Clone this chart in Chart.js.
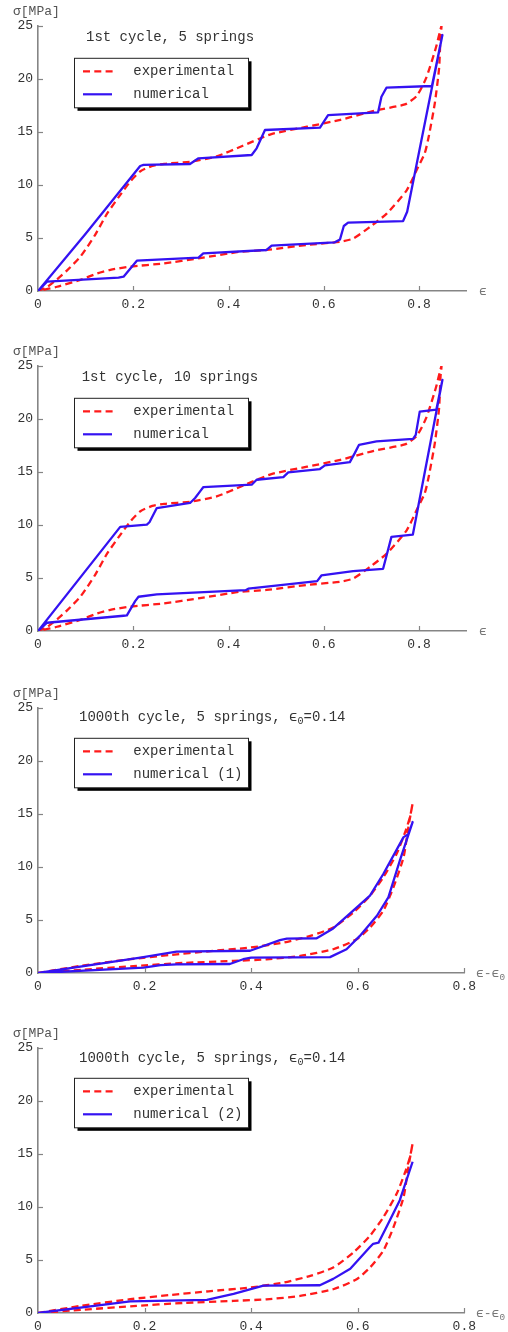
<!DOCTYPE html>
<html>
<head>
<meta charset="utf-8">
<script src="https://cdn.jsdelivr.net/npm/chart.js@4.4.0/dist/chart.umd.min.js"></script>
<style>
  body { margin: 0; background: #fff; width: 508px; height: 1332px; position: relative; overflow: hidden; }
  .panel { position: absolute; left: 0; width: 508px; height: 330px; }
</style>
</head>
<body>
<div class="panel" style="top:0px"><canvas id="c1" width="508" height="330"></canvas></div>
<div class="panel" style="top:340px"><canvas id="c2" width="508" height="330"></canvas></div>
<div class="panel" style="top:682px"><canvas id="c3" width="508" height="330"></canvas></div>
<div class="panel" style="top:1022px"><canvas id="c4" width="508" height="330"></canvas></div>
<script>
// ---- data ----
const yTicks = [0, 5, 10, 15, 20, 25];
const yTickLabels = ['0', '5', '10', '15', '20', '25'];
const xTicks = [0, 0.2, 0.4, 0.6, 0.8];
const xTickLabels = ['0', '0.2', '0.4', '0.6', '0.8'];

// experimental, 1st cycle (loading then unloading)
const expX1 = [0, 0.02, 0.04, 0.06, 0.09, 0.12, 0.145, 0.17, 0.195, 0.215, 0.24, 0.265, 0.32, 0.375, 0.43, 0.49, 0.565, 0.635, 0.705, 0.77, 0.795, 0.815, 0.835, 0.847,
               0.845, 0.842, 0.833, 0.82, 0.812, 0.798, 0.774, 0.732, 0.697, 0.662, 0.634, 0.564, 0.48, 0.424, 0.34, 0.263, 0.194, 0.152, 0.124, 0.089, 0.04, 0];
const expY1 = [0, 0.4, 1.1, 1.9, 3.3, 5.3, 7.3, 8.9, 10.4, 11.3, 11.8, 12.0, 12.2, 12.7, 13.7, 14.8, 15.5, 16.15, 17.0, 17.6, 18.4, 20.1, 22.9, 25.0,
               24.0, 21.0, 17.7, 14.5, 13.0, 11.7, 9.5, 7.3, 6.05, 4.95, 4.65, 4.34, 3.87, 3.7, 3.1, 2.6, 2.3, 2.0, 1.65, 1.05, 0.4, 0];

// numerical, 1st cycle, 5 springs
const numX1 = [0, 0.1, 0.2145, 0.2215, 0.319, 0.337, 0.4486, 0.459, 0.4765, 0.592, 0.609, 0.714, 0.721, 0.7315, 0.827, 0.849,
               0.775, 0.7665, 0.651, 0.642, 0.634, 0.623, 0.4905, 0.48, 0.347, 0.337, 0.2075, 0.1796, 0.169, 0.0189, 0];
const numY1 = [0, 5.4, 11.79, 11.89, 11.98, 12.52, 12.83, 13.46, 15.19, 15.41, 16.6, 16.86, 18.33, 19.18, 19.34, 24.15,
               7.48, 6.6, 6.45, 6.13, 4.87, 4.59, 4.28, 3.87, 3.55, 3.14, 2.86, 1.35, 1.26, 0.88, 0];

// numerical, 1st cycle, 10 springs
const numX2 = [0, 0.1726, 0.2285, 0.234, 0.2494, 0.3193, 0.3298, 0.3403, 0.3473, 0.4486, 0.459, 0.515, 0.5254, 0.5918, 0.6023, 0.6547, 0.665, 0.674, 0.7106, 0.7874, 0.793, 0.8014, 0.8363, 0.849,
               0.787, 0.742, 0.7245, 0.6616, 0.595, 0.586, 0.4415, 0.436, 0.2494, 0.211, 0.204, 0.1866, 0.1796, 0.0189, 0];
const numY2 = [0, 9.82, 10.04, 10.26, 11.6, 12.08, 12.55, 13.17, 13.58, 13.8, 14.27, 14.52, 14.96, 15.28, 15.62, 15.93, 16.78, 17.57, 17.88, 18.13, 18.5, 20.7, 20.89, 23.68,
               9.1, 8.88, 5.87, 5.65, 5.24, 4.7, 3.99, 3.85, 3.45, 3.23, 2.82, 1.47, 1.44, 0.78, 0];

// experimental, 1000th cycle (x = eps - eps0)
const expX2 = [0, 0.079, 0.173, 0.248, 0.32, 0.398, 0.46, 0.511, 0.554, 0.592, 0.623, 0.648, 0.673, 0.689, 0.698, 0.703,
               0.695, 0.686, 0.667, 0.648, 0.623, 0.598, 0.554, 0.492, 0.429, 0.367, 0.273, 0.179, 0.086, 0];
const expY2 = [0, 0.66, 1.3, 1.7, 2.05, 2.4, 2.87, 3.5, 4.29, 5.71, 7.29, 9.03, 11.24, 13.29, 14.7, 16.0,
               13.76, 10.92, 8.08, 5.87, 4.29, 3.19, 2.24, 1.61, 1.29, 1.14, 0.95, 0.65, 0.32, 0];

// numerical (1), 1000th cycle
const numX3 = [0, 0.192, 0.26, 0.398, 0.454, 0.467, 0.523, 0.554, 0.592, 0.623, 0.648, 0.686, 0.695, 0.703,
               0.679, 0.6575, 0.636, 0.604, 0.579, 0.548, 0.4, 0.385, 0.36, 0.26, 0.23, 0.198, 0];
const numY3 = [0, 1.45, 2.02, 2.1, 3.1, 3.25, 3.28, 4.2, 5.9, 7.29, 9.34, 12.82, 13.1, 14.24,
               10.6, 7.13, 5.4, 3.5, 2.24, 1.5, 1.45, 1.3, 0.85, 0.82, 0.75, 0.5, 0];

// numerical (2), 1000th cycle
const numX4 = [0, 0.173, 0.317, 0.367, 0.423, 0.529, 0.554, 0.586, 0.623, 0.629, 0.639, 0.654, 0.679, 0.703];
const numY4 = [0, 1.1, 1.23, 1.8, 2.59, 2.62, 3.22, 4.17, 6.22, 6.53, 6.63, 8.11, 10.64, 14.27];

// ---- styling ----
const RED = '#ff1a1a';
const BLUE = '#3412f2';
const AXIS = '#858585';
const TXT = '#333333';
const MONO = "'Liberation Mono', 'DejaVu Sans Mono', monospace";

function toPoints(xs, ys) {
    return xs.map((x, i) => ({ x: x, y: ys[i] }));
}

// text in mono with an optional small subscript "0" after some parts
function drawParts(ctx, parts, x, y, size, color) {
    ctx.fillStyle = color;
    ctx.textBaseline = 'middle';
    ctx.textAlign = 'left';
    parts.forEach(p => {
        if (p.sub) {
            ctx.font = (size * 0.72) + 'px ' + MONO;
            ctx.fillText(p.t, x, y + size * 0.28);
        } else {
            ctx.font = size + 'px ' + MONO;
            ctx.fillText(p.t, x, y);
        }
        x += ctx.measureText(p.t).width;
    });
}

const decor = {
    id: 'decor',
    afterDraw(chart) {
        const ctx = chart.ctx;
        const d = chart.options.plugins.decor;
        const xs = chart.scales.x, ys = chart.scales.y;
        const area = chart.chartArea;
        ctx.save();

        // inward tick marks
        ctx.strokeStyle = AXIS;
        ctx.lineWidth = 1.2;
        xs.ticks.forEach(t => {
            const px = Math.round(xs.getPixelForValue(t.value)) + 0.5;
            if (t.value === 0) return;
            ctx.beginPath();
            ctx.moveTo(px, area.bottom);
            ctx.lineTo(px, area.bottom - 5);
            ctx.stroke();
        });
        ys.ticks.forEach(t => {
            const py = Math.round(ys.getPixelForValue(t.value)) + 0.5;
            if (t.value === 0) return;
            ctx.beginPath();
            ctx.moveTo(area.left, py);
            ctx.lineTo(area.left + 5, py);
            ctx.stroke();
        });

        // axis labels
        drawParts(ctx, [{ t: 'σ[MPa]' }], 13, d.yLabelY, 13, '#555');
        drawParts(ctx, d.xLabel, d.xLabelX, area.bottom + 1, 13, '#777');

        // title
        drawParts(ctx, d.title, d.titleX, d.titleY, 14, TXT);

        // legend box with shadow
        const bx = 74.5, by = d.boxY, bw = 174, bh = 49.5;
        ctx.fillStyle = '#000';
        ctx.fillRect(bx + 3, by + 3, bw, bh);
        ctx.fillStyle = '#fff';
        ctx.fillRect(bx, by, bw, bh);
        ctx.strokeStyle = '#222';
        ctx.lineWidth = 1;
        ctx.strokeRect(bx, by, bw, bh);

        ctx.lineWidth = 2.2;
        ctx.strokeStyle = RED;
        ctx.setLineDash([7, 4.3]);
        ctx.beginPath();
        ctx.moveTo(83, by + 13);
        ctx.lineTo(113, by + 13);
        ctx.stroke();
        ctx.setLineDash([]);
        ctx.strokeStyle = BLUE;
        ctx.beginPath();
        ctx.moveTo(83, by + 36);
        ctx.lineTo(112, by + 36);
        ctx.stroke();
        drawParts(ctx, [{ t: 'experimental' }], 133.3, by + 13, 14, TXT);
        drawParts(ctx, [{ t: d.numLabel }], 133.3, by + 36, 14, TXT);

        ctx.restore();
    }
};

function makeChart(id, p) {
    const ctx = document.getElementById(id);
    return new Chart(ctx, {
        type: 'scatter',
        data: {
            datasets: [
                {
                    label: p.numLabel,
                    data: toPoints(p.numX, p.numY),
                    showLine: true,
                    borderColor: BLUE,
                    borderWidth: 2.3,
                    borderJoinStyle: 'round',
                    pointRadius: 0,
                    tension: 0
                },
                {
                    label: 'experimental',
                    data: toPoints(p.expX, p.expY),
                    showLine: true,
                    borderColor: RED,
                    borderWidth: 2.3,
                    borderDash: [7, 4.3],
                    borderJoinStyle: 'round',
                    pointRadius: 0,
                    tension: 0.2
                }
            ]
        },
        options: {
            responsive: false,
            animation: false,
            events: [],
            layout: { padding: { top: 26, left: 0, right: p.rightPad, bottom: 9 } },
            plugins: {
                legend: { display: false },
                tooltip: { enabled: false },
                decor: p
            },
            scales: {
                x: {
                    type: 'linear',
                    min: 0,
                    max: p.xMax,
                    afterBuildTicks: s => { s.ticks = xTicks.map(v => ({ value: v })); },
                    afterFit: s => { s.height = 30; },
                    grid: { display: false, drawTicks: false },
                    border: { color: AXIS, width: 1.6 },
                    ticks: {
                        callback: (v, i) => xTickLabels[i],
                        font: { family: MONO, size: 13 },
                        color: TXT,
                        padding: 6,
                        maxRotation: 0
                    }
                },
                y: {
                    type: 'linear',
                    min: 0,
                    max: 25,
                    afterBuildTicks: s => { s.ticks = yTicks.map(v => ({ value: v })); },
                    afterFit: s => { s.width = 38; },
                    grid: { display: false, drawTicks: false },
                    border: { color: AXIS, width: 1.6 },
                    ticks: {
                        callback: (v, i) => yTickLabels[i],
                        font: { family: MONO, size: 13 },
                        color: TXT,
                        padding: 5
                    }
                }
            }
        },
        plugins: [decor]
    });
}

const EPS = 'ϵ';

makeChart('c1', {
    numX: numX1, numY: numY1, expX: expX1, expY: expY1, xMax: 0.9, rightPad: 41.3,
    numLabel: 'numerical', title: [{ t: '1st cycle, 5 springs' }], titleX: 86, titleY: 37,
    boxY: 58.3, yLabelY: 12, xLabel: [{ t: EPS }], xLabelX: 479
});
makeChart('c2', {
    numX: numX2, numY: numY2, expX: expX1, expY: expY1, xMax: 0.9, rightPad: 41.3,
    numLabel: 'numerical', title: [{ t: '1st cycle, 10 springs' }], titleX: 81.7, titleY: 37,
    boxY: 58.3, yLabelY: 11.7, xLabel: [{ t: EPS }], xLabelX: 479
});
makeChart('c3', {
    numX: numX3, numY: numY3, expX: expX2, expY: expY2, xMax: 0.8, rightPad: 43.7,
    numLabel: 'numerical (1)',
    title: [{ t: '1000th cycle, 5 springs, ' + EPS }, { t: '0', sub: true }, { t: '=0.14' }], titleX: 79, titleY: 35,
    boxY: 56.3, yLabelY: 11.3, xLabel: [{ t: EPS + '-' + EPS }, { t: '0', sub: true }], xLabelX: 476
});
makeChart('c4', {
    numX: numX4, numY: numY4, expX: expX2, expY: expY2, xMax: 0.8, rightPad: 43.7,
    numLabel: 'numerical (2)',
    title: [{ t: '1000th cycle, 5 springs, ' + EPS }, { t: '0', sub: true }, { t: '=0.14' }], titleX: 79, titleY: 36.3,
    boxY: 56.3, yLabelY: 11.3, xLabel: [{ t: EPS + '-' + EPS }, { t: '0', sub: true }], xLabelX: 476
});
</script>
</body>
</html>
